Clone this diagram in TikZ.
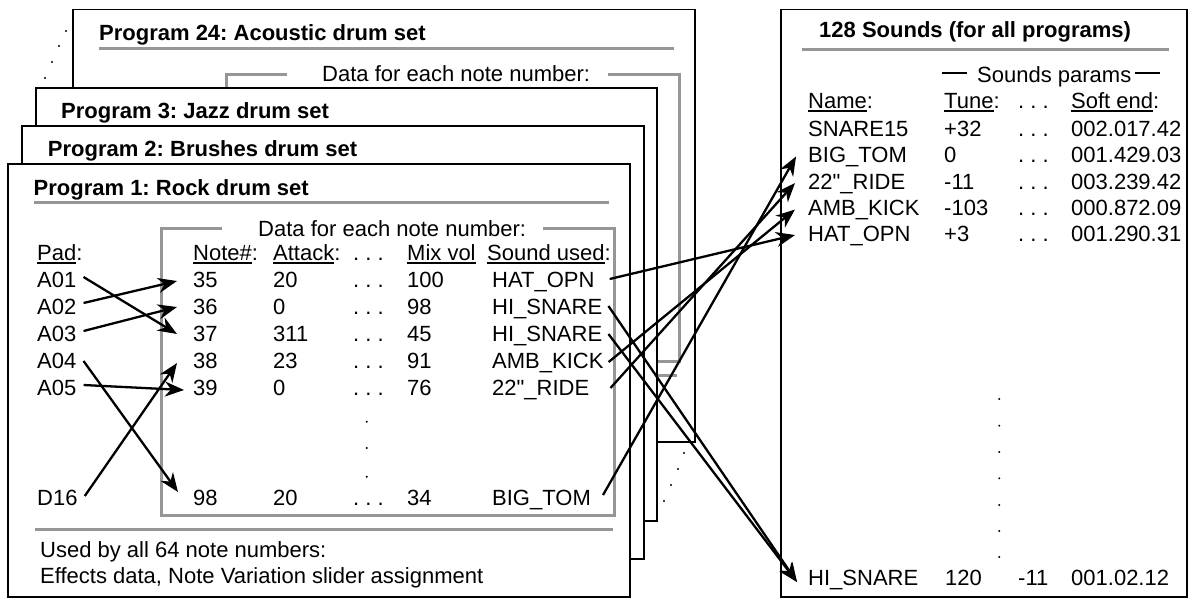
\documentclass[tikz,border=0pt]{standalone}
\usepackage{fontspec}
\setmainfont{Liberation Sans}
\usetikzlibrary{arrows.meta,calc}
\definecolor{rulegray}{RGB}{150,150,150}
\newcommand{\ulx}[1]{\setbox0\hbox{#1}\rlap{\rule[-3.6pt]{\wd0}{1.3pt}}\box0}
\newcommand{\dq}{\XeTeXglyph\XeTeXglyphindex "quotedbl"\relax}
\frenchspacing
\tikzset{
  txt/.style={inner sep=0pt, anchor=base west, font=\fontsize{22}{26}\selectfont},
  ttl/.style={inner sep=0pt, anchor=base west, font=\fontsize{22}{26}\selectfont\bfseries},
  card/.style={draw=black, line width=1.3pt, fill=white},
  gr/.style={draw=rulegray, line width=3pt},
  arr/.style={line width=2.3pt, -{Stealth[length=19pt,width=15pt,inset=6pt]}},
  thinl/.style={line width=1.3pt}
}
\begin{document}
\begin{tikzpicture}[x=1pt,y=-1pt]
\useasboundingbox (0,0) rectangle (1190,606);
% ---- card 24 (back)
\draw[card] (73,9.3) rectangle (695,442);
\node[ttl] (t24) at (99,40.7) {Program 24: Acoustic drum set};
\draw[gr] (99,48.3) -- (674,48.3);
\node[txt] (d24) at (322,81.5) {Data for each note number:};
\draw[gr] (287,74) -- (226,74) -- (226,361) -- (679,361) -- (679,74) -- (608,74);
\draw[gr] (99,375) -- (677,375);
% dots between cards
\foreach \p in {(45,78),(52,62),(59,46),(66,31),(664,501),(671,485),(678,469),(684,453)}
  \fill \p circle (1.1);
% ---- card 3
\draw[card] (36,88) rectangle (657,521);
\node[ttl] (t3) at (61,118.3) {Program 3: Jazz drum set};
% ---- card 2
\draw[card] (22,126) rectangle (644,559);
\node[ttl] (t2) at (47.7,156.7) {Program 2: Brushes drum set};
% ---- card 1
\draw[card] (8,164) rectangle (630,597);
\node[ttl] (t1) at (33.5,195) {Program 1: Rock drum set};
\draw[gr] (34,202.5) -- (609,202.5);
\node[txt] (d1) at (258,236) {Data for each note number:};
\draw[gr] (222,228) -- (161,228) -- (161,515) -- (614,515) -- (614,228) -- (543,228);
\draw[gr] (35,529) -- (613,529);
% headers
\node[txt] (hPad) at (37,260) {\ulx{Pad}:};
\node[txt] (hNote) at (193,260) {\ulx{Note\#}:};
\node[txt] (hAtt) at (273,260) {\ulx{Attack}:};
\node[txt] (hDots) at (353,260) {. . .};
\node[txt] (hMix) at (407,260) {\ulx{Mix vol}};
\node[txt] (hSnd) at (487,260) {\ulx{Sound used}:};
% pads
\node[txt] (pA01) at (37,287) {A01};
\node[txt] (pA02) at (37,314) {A02};
\node[txt] (pA03) at (37,341) {A03};
\node[txt] (pA04) at (37,368) {A04};
\node[txt] (pA05) at (37,395) {A05};
\node[txt] (pD16) at (37,505) {D16};
% rows
\foreach \n/\a/\m/\y in {35/20/100/287,36/0/98/314,37/311/45/341,38/23/91/368,39/0/76/395,98/20/34/505}{
  \node[txt] (n\n) at (193,\y) {\n};
  \node[txt] (a\n) at (273,\y) {\a};
  \node[txt] (e\n) at (353,\y) {. . .};
  \node[txt] (m\n) at (407,\y) {\m};
}
\node[txt] (s35) at (492,287) {HAT\_OPN};
\node[txt] (s36) at (492,314) {HI\_SNARE};
\node[txt] (s37) at (492,341) {HI\_SNARE};
\node[txt] (s38) at (492,368) {AMB\_KICK};
\node[txt] (s39) at (492,395) {22\dq\_RIDE};
\node[txt] (s98) at (492,505) {BIG\_TOM};
\foreach \y in {421.7,448,476.7} \fill (366.7,\y) circle (1.1);
\node[txt] (u1) at (40,557) {Used by all 64 note numbers:};
\node[txt] (u2) at (40,583) {Effects data, Note Variation slider assignment};
% ---- right panel
\draw[card] (781,9.3) rectangle (1187,597);
\node[ttl] (rt) at (819,37.3) {128 Sounds (for all programs)};
\draw[gr] (802,49) -- (1169,49);
\node[txt] (sp) at (977,82) {Sounds params};
\draw[thinl] ($(sp.base west)+(-10,-9)$) -- ($(sp.base west)+(-35,-9)$);
\draw[thinl] ($(sp.base east)+(3,-9)$) -- ($(sp.base east)+(28,-9)$);
\node[txt] (hName) at (808,108) {\ulx{Name}:};
\node[txt] (hTune) at (944,108) {\ulx{Tune}:};
\node[txt] (hRd) at (1018,108) {. . .};
\node[txt] (hSoft) at (1071,108) {\ulx{Soft end}:};
\foreach \k/\nm/\t/\s/\y in {SN/SNARE15/+32/002.017.42/136,BT/BIG\_TOM/0/001.429.03/162.5,RD/22\dq\_RIDE/-11/003.239.42/189,AK/AMB\_KICK/-103/000.872.09/215.5,HO/HAT\_OPN/+3/001.290.31/241}{
  \node[txt] (r\k) at (808,\y) {\nm};
  \node[txt] (rt\k) at (944,\y) {\t};
  \node[txt] (rd\k) at (1018,\y) {. . .};
  \node[txt] (rs\k) at (1071,\y) {\s};
}
\foreach \y in {399,425.7,452,478.3,505,531,557} \fill (999.3,\y) circle (1.1);
\node[txt] (rHS) at (808,585) {HI\_SNARE};
\node[txt] (rtHS) at (945,585) {120};
\node[txt] (rdHS) at (1018,585) {-11};
\node[txt] (rsHS) at (1071,585) {001.02.12};
% ---- arrows pads -> notes
\draw[arr] ($(pA01.base east)+(7,-10)$) -- ($(n37.base west)+(-16,-7)$);
\draw[arr] ($(pA02.base east)+(7,-11)$) -- ($(n35.base west)+(-16,-6)$);
\draw[arr] ($(pA03.base east)+(7,-10)$) -- ($(n36.base west)+(-16,-7)$);
\draw[arr] ($(pA04.base east)+(7,-7)$) -- ($(n98.base west)+(-15,-13)$);
\draw[arr] ($(pA05.base east)+(7,-10)$) -- ($(n39.base west)+(-9,-5)$);
\draw[arr] ($(pD16.base east)+(7,-9)$) -- ($(n38.base west)+(-16,-5)$);
% ---- arrows sounds -> sound list
\draw[arr] ($(s35.base east)+(15,-8)$) -- ($(rHO.base west)+(-13,-6)$);
\draw[arr] ($(s36.base east)+(6,-8)$) -- ($(rHS.base west)+(-11,-3)$);
\draw[arr] ($(s37.base east)+(6,-7)$) -- ($(rHS.base west)+(-11,-3)$);
\draw[arr] ($(s38.base east)+(5,-6)$) -- ($(rAK.base west)+(-13,-6)$);
\draw[arr] ($(s39.base east)+(21,-7)$) -- ($(rRD.base west)+(-13,-6)$);
\draw[arr] ($(s98.base east)+(12,-10)$) -- ($(rBT.base west)+(-12,-6)$);
\end{tikzpicture}
\end{document}
